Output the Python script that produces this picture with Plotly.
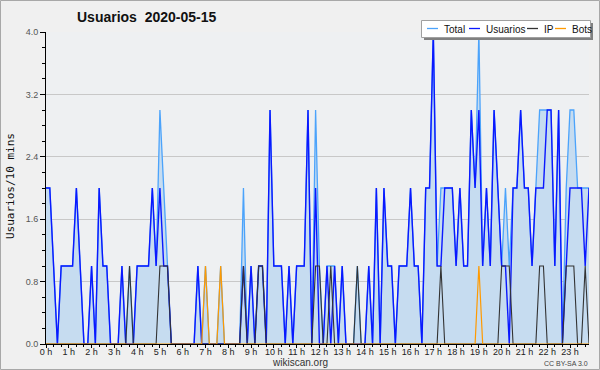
import plotly.graph_objects as go
import pandas as pd

# 10-minute slots of 2020-05-15
times = pd.date_range("2020-05-15 00:00", periods=144, freq="10min")

total = [
    2, 2, 1, 0, 1, 1, 1, 1, 2, 1, 0, 0,
    1, 0, 2, 1, 1, 0, 0, 0, 1, 0, 1, 0,
    1, 1, 1, 1, 2, 1, 3, 2, 1, 0, 0, 0,
    0, 0, 0, 0, 1, 0, 1, 0, 0, 0, 1, 0,
    0, 0, 0, 0, 2, 0, 1, 0, 1, 1, 0, 3,
    1, 1, 1, 0, 1, 0, 1, 1, 1, 3, 0, 3,
    1, 0, 1, 1, 1, 0, 1, 0, 0, 0, 1, 0,
    0, 1, 0, 2, 0, 2, 1, 1, 0, 1, 1, 1,
    2, 1, 1, 0, 2, 2, 4, 1, 2, 2, 2, 2,
    1, 2, 1, 1, 3, 2, 4, 1, 2, 1, 3, 2,
    1, 2, 1, 2, 2, 3, 2, 2, 1, 2, 3, 3,
    3, 3, 1, 3, 0, 2, 3, 3, 2, 2, 2, 2,
]
usuarios = [
    2, 2, 1, 0, 1, 1, 1, 1, 2, 1, 0, 0,
    1, 0, 2, 1, 1, 0, 0, 0, 1, 0, 0, 0,
    1, 1, 1, 1, 2, 1, 2, 1, 1, 0, 0, 0,
    0, 0, 0, 0, 1, 0, 0, 0, 0, 0, 0, 0,
    0, 0, 0, 0, 1, 0, 1, 0, 1, 1, 0, 3,
    1, 1, 1, 0, 1, 0, 1, 1, 1, 3, 0, 2,
    0, 0, 1, 0, 1, 0, 1, 0, 0, 0, 0, 0,
    0, 1, 0, 2, 0, 2, 1, 1, 0, 1, 1, 1,
    2, 1, 1, 0, 2, 2, 4, 1, 1, 2, 2, 2,
    1, 2, 1, 1, 3, 2, 3, 1, 2, 1, 3, 2,
    1, 1, 0, 2, 2, 3, 2, 2, 1, 2, 2, 2,
    3, 3, 1, 3, 0, 1, 2, 2, 2, 2, 1, 2,
]
ip = [
    0, 0, 0, 0, 0, 0, 0, 0, 0, 0, 0, 0,
    0, 0, 0, 0, 0, 0, 0, 0, 0, 0, 1, 0,
    0, 0, 0, 0, 0, 0, 1, 1, 1, 0, 0, 0,
    0, 0, 0, 0, 0, 0, 0, 0, 0, 0, 0, 0,
    0, 0, 0, 0, 1, 0, 0, 0, 1, 1, 0, 0,
    0, 0, 0, 0, 0, 0, 0, 0, 0, 0, 0, 1,
    1, 0, 0, 1, 0, 0, 0, 0, 0, 0, 1, 0,
    0, 0, 0, 0, 0, 0, 0, 0, 0, 0, 0, 0,
    0, 0, 0, 0, 0, 0, 0, 0, 1, 0, 0, 0,
    0, 0, 0, 0, 0, 0, 0, 0, 0, 0, 0, 0,
    1, 1, 1, 0, 0, 0, 0, 0, 0, 0, 1, 1,
    0, 0, 0, 0, 0, 1, 1, 1, 0, 0, 1, 0,
]
bots = [
    0, 0, 0, 0, 0, 0, 0, 0, 0, 0, 0, 0,
    0, 0, 0, 0, 0, 0, 0, 0, 0, 0, 0, 0,
    0, 0, 0, 0, 0, 0, 0, 0, 0, 0, 0, 0,
    0, 0, 0, 0, 0, 0, 1, 0, 0, 0, 1, 0,
    0, 0, 0, 0, 0, 0, 0, 0, 0, 0, 0, 0,
    0, 0, 0, 0, 0, 0, 0, 0, 0, 0, 0, 0,
    0, 0, 0, 0, 0, 0, 0, 0, 0, 0, 0, 0,
    0, 0, 0, 0, 0, 0, 0, 0, 0, 0, 0, 0,
    0, 0, 0, 0, 0, 0, 0, 0, 0, 0, 0, 0,
    0, 0, 0, 0, 0, 0, 1, 0, 0, 0, 0, 0,
    0, 0, 0, 0, 0, 0, 0, 0, 0, 0, 0, 0,
    0, 0, 0, 0, 0, 0, 0, 0, 0, 0, 0, 0,
]

hour_labels = ["0 h", "1 h", "2 h", "3 h", "4 h", "5 h", "6 h", "7 h", "8 h", "9 h",
               "10 h", "11 h", "12 h", "13 h", "14 h", "15 h", "16 h", "17 h", "18 h",
               "19 h", "20 h", "21 h", "22 h", "23 h"]
hour_ticks = pd.date_range("2020-05-15 00:00", periods=24, freq="h")

series_names = ["Total", "Usuarios", "IP", "Bots"]
series_colors = ["#4ba3fb", "#0a18ff", "#333333", "#ff9a00"]

FONT = "Liberation Sans, Arial, sans-serif"

fig = go.Figure()
fig.add_trace(go.Scatter(x=times, y=total, name="Total", mode="lines",
                         line=dict(color=series_colors[0], width=1.3),
                         fill="tozeroy", fillcolor="#c6dcf0"))
fig.add_trace(go.Scatter(x=times, y=usuarios, name="Usuarios", mode="lines",
                         line=dict(color=series_colors[1], width=1.4)))
fig.add_trace(go.Scatter(x=times, y=ip, name="IP", mode="lines",
                         line=dict(color=series_colors[2], width=1.1)))
fig.add_trace(go.Scatter(x=times, y=bots, name="Bots", mode="lines",
                         line=dict(color=series_colors[3], width=1.2)))

L, R, T, B = 46, 11, 32, 26
W, H = 600, 370
PW, PH = W - L - R, H - T - B


def px(xp):
    return (xp - L) / PW


def py(yp):
    return (H - B - yp) / PH


shapes = []
annotations = []
# outer border
shapes.append(dict(type="rect", xref="paper", yref="paper",
                   x0=px(0.5), x1=px(599.5), y0=py(369.5), y1=py(0.5),
                   line=dict(color="#a8a8a8", width=1), layer="above"))
# legend box with shadow
shapes.append(dict(type="rect", xref="paper", yref="paper",
                   x0=px(424), x1=px(593), y0=py(40), y1=py(23),
                   fillcolor="#808080", line=dict(width=0), layer="above"))
shapes.append(dict(type="rect", xref="paper", yref="paper",
                   x0=px(421.5), x1=px(590.5), y0=py(37.5), y1=py(20.5),
                   fillcolor="#ffffff", line=dict(color="#a0a0a0", width=1), layer="above"))
leg_line_x = [427, 469, 527, 555]
leg_text_x = [442, 484, 542, 570]
for name, col, lx, tx in zip(series_names, series_colors, leg_line_x, leg_text_x):
    shapes.append(dict(type="line", xref="paper", yref="paper",
                       x0=px(lx), x1=px(lx + 11), y0=py(28.5), y1=py(28.5),
                       line=dict(color=col, width=1.3), layer="above"))
    annotations.append(dict(text=name, xref="paper", yref="paper", x=px(tx), y=py(29),
                            xanchor="left", yanchor="middle", showarrow=False,
                            font=dict(family=FONT, size=10, color="#111")))

annotations.append(dict(text="<b>Usuarios  2020-05-15</b>", xref="paper", yref="paper",
                        x=px(75), y=py(17), xanchor="left", yanchor="middle",
                        showarrow=False, font=dict(family=FONT, size=14, color="#111")))
annotations.append(dict(text="Usuarios/10 mins", xref="paper", yref="paper",
                        x=px(10), y=py(186), xanchor="center", yanchor="middle",
                        textangle=-90, showarrow=False,
                        font=dict(family="DejaVu Sans Mono, monospace", size=11, color="#111")))
annotations.append(dict(text="wikiscan.org", xref="paper", yref="paper",
                        x=px(300), y=py(362), xanchor="center", yanchor="middle",
                        showarrow=False, font=dict(family=FONT, size=10, color="#333")))
annotations.append(dict(text="CC BY-SA 3.0", xref="paper", yref="paper",
                        x=px(590), y=py(363), xanchor="right", yanchor="middle",
                        showarrow=False, font=dict(family=FONT, size=7, color="#444")))

fig.update_layout(
    width=W, height=H,
    margin=dict(l=L, r=R, t=T, b=B, autoexpand=False),
    paper_bgcolor="#f0f0f0",
    plot_bgcolor="#eef0f2",
    showlegend=False,
    shapes=shapes,
    annotations=annotations,
    font=dict(family=FONT, size=9, color="#222"),
)
fig.update_xaxes(
    automargin=False,
    range=[times[0], times[-1]],
    tickvals=hour_ticks, ticktext=hour_labels,
    ticks="outside", ticklen=3, tickcolor="#000", tickwidth=1,
    ticklabelstandoff=-4,
    showline=True, linecolor="#000", linewidth=1,
    showgrid=False, zeroline=False,
    tickfont=dict(family=FONT, size=9, color="#222"),
    minor=dict(ticks="outside", ticklen=2, tickcolor="#000",
               tick0="2020-05-15 00:00", dtick=20 * 60 * 1000, showgrid=False),
)
fig.update_yaxes(
    automargin=False,
    range=[0, 4], dtick=0.8, tick0=0, tickformat=".1f",
    ticks="outside", ticklen=5, tickcolor="#000", tickwidth=1,
    showline=True, linecolor="#000", linewidth=1,
    showgrid=True, gridcolor="#c8c8c8", gridwidth=1, zeroline=False,
    tickfont=dict(family=FONT, size=9, color="#555"),
    minor=dict(ticks="outside", ticklen=3, tickcolor="#000", dtick=0.2, showgrid=False),
)

fig.write_html("out.html", config={"displayModeBar": False, "responsive": False},
               post_script="document.body.style.margin='0';document.body.style.overflow='hidden';")
